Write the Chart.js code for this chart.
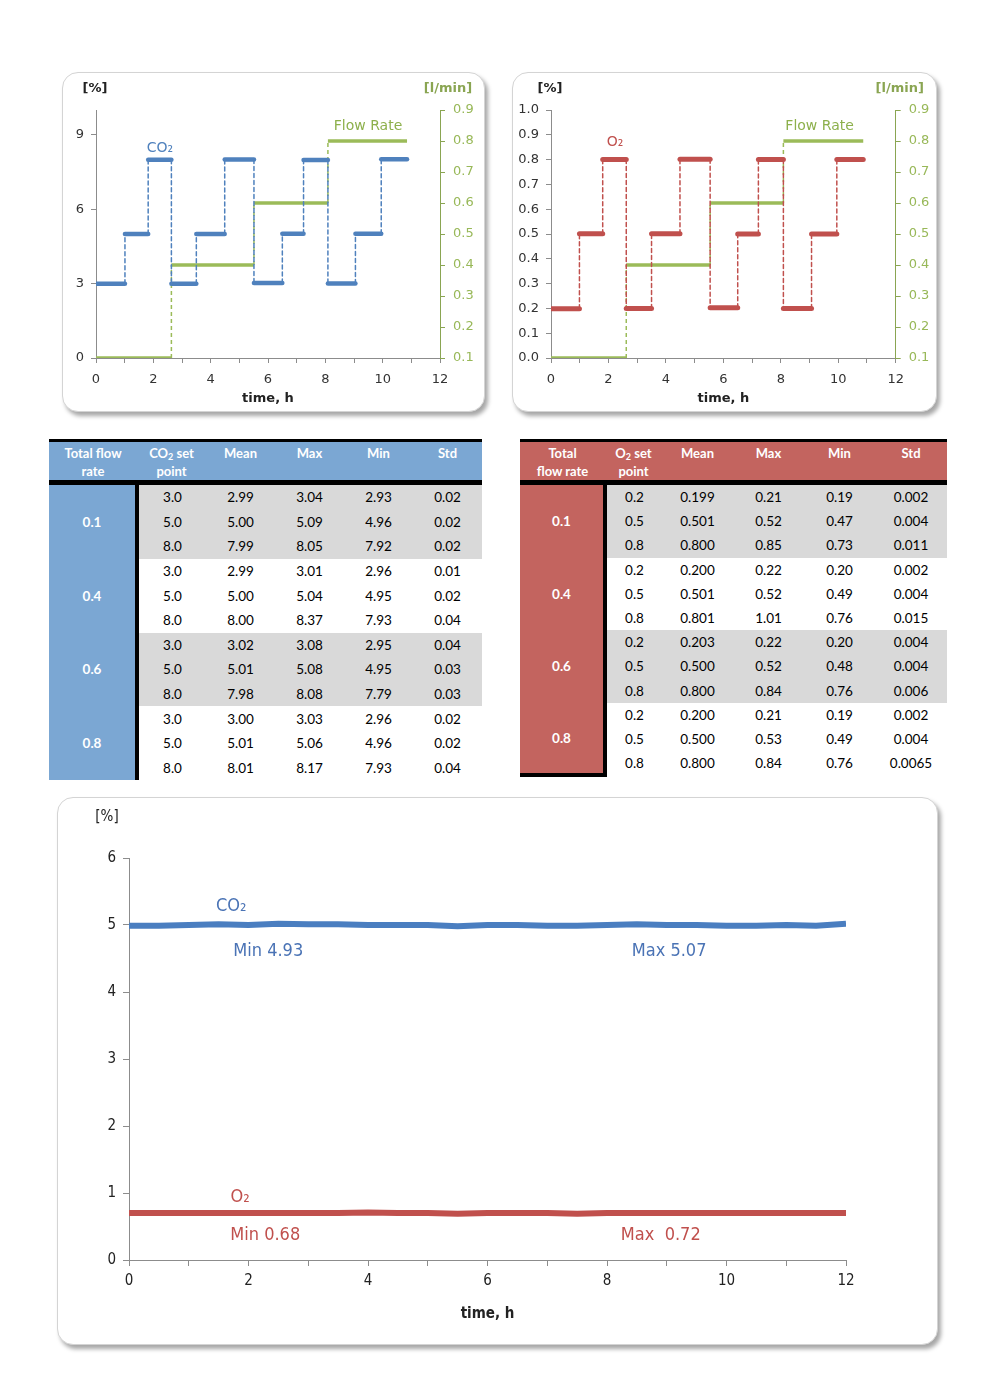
<!DOCTYPE html>
<html>
<head>
<meta charset="utf-8">
<script src="https://cdn.jsdelivr.net/npm/chart.js@4.4.1/dist/chart.umd.min.js"></script>
<style>
  body { margin: 0; background: #fff; width: 1000px; height: 1400px; position: relative; font-family: 'DejaVu Sans', sans-serif; }
  .card { position: absolute; box-sizing: border-box; background: #fff; border: 1.5px solid #d4d4d4; border-radius: 16px; box-shadow: 3px 4px 4px rgba(0,0,0,0.35); }
  canvas { position: absolute; }
  table.stats { position: absolute; border-collapse: collapse; table-layout: fixed; font-family: Lato, 'Open Sans', sans-serif; font-size: 13.5px; }
  table.stats th { color: #fff; font-weight: bold; font-size: 13px; height: 36px; vertical-align: top; padding: 2px 0 0; line-height: 18px; border-top: 3px solid #000; border-bottom: 5px solid #000; }
  table.stats td { padding: 0; text-align: center; color: #000; }
  #tblCO2 td { height: 24.6px; }
  #tblO2 td { height: 24.2px; }
  table.stats tr.shade td { background: #d9d9d9; }
  table.stats td.grp { color: #fff; font-weight: bold; border-right: 4px solid #000; }
  table.stats sub { font-size: 9px; vertical-align: -2px; line-height: 0; }
  #tblCO2 th, #tblCO2 td.grp { background: #7ba7d3; }
  #tblO2 th, #tblO2 td.grp { background: #c3645f; }
  #tblO2 td.grp.lastgrp { border-bottom: 4px solid #000; }
</style>
</head>
<body>
<div class="card" style="left:62px;top:72px;width:423px;height:340px"></div>
<div class="card" style="left:512px;top:72px;width:425px;height:340px"></div>
<div class="card" style="left:57px;top:797px;width:881px;height:548px"></div>

<canvas id="co2Steps" width="423" height="340" style="left:62px;top:72px"></canvas>
<canvas id="o2Steps" width="425" height="340" style="left:512px;top:72px"></canvas>
<canvas id="longRun" width="881" height="548" style="left:57px;top:797px"></canvas>

<table id="tblCO2" class="stats" style="left:49px;top:439px;width:433px"></table>
<table id="tblO2" class="stats" style="left:520px;top:439px;width:427px"></table>

<script>
// step test, CO2 (top left)
const co2StepTimes = [0, 1.01, 1.82, 2.63, 3.50, 4.49, 5.51, 6.50, 7.24, 8.09, 9.05, 9.95, 10.85];
const co2StepValues = [2.99, 5.00, 7.99, 2.99, 5.00, 8.00, 3.02, 5.01, 7.98, 3.00, 5.01, 8.01];
const co2FlowTimes = [0, 2.63, 5.51, 8.09, 10.85];

// step test, O2 (top right)
const o2StepTimes = [0, 0.99, 1.80, 2.62, 3.50, 4.49, 5.54, 6.50, 7.22, 8.09, 9.07, 9.95, 10.87];
const o2StepValues = [0.199, 0.501, 0.800, 0.200, 0.501, 0.801, 0.203, 0.500, 0.800, 0.200, 0.500, 0.800];
const o2FlowTimes = [0, 2.62, 5.54, 8.09, 10.87];

const flowValues = [0.1, 0.4, 0.6, 0.8];

// 12 h run at constant set point (bottom)
const longTimes = [0, 0.5, 1, 1.5, 2, 2.5, 3, 3.5, 4, 4.5, 5, 5.5, 6, 6.5, 7, 7.5, 8, 8.5, 9, 9.5, 10, 10.5, 11, 11.5, 12];
const longCO2 = [4.99, 4.99, 5.00, 5.01, 5.00, 5.02, 5.01, 5.01, 5.00, 5.00, 5.00, 4.98, 5.00, 5.00, 4.99, 4.99, 5.00, 5.01, 5.00, 5.00, 4.99, 4.99, 5.00, 4.99, 5.02];
const longO2 = [0.70, 0.70, 0.70, 0.70, 0.70, 0.70, 0.70, 0.70, 0.71, 0.70, 0.70, 0.69, 0.70, 0.70, 0.70, 0.69, 0.70, 0.70, 0.70, 0.70, 0.70, 0.70, 0.70, 0.70, 0.70];

// tables
const flowGroups = ['0.1', '0.4', '0.6', '0.8'];
const co2SetPoints = ['3.0', '5.0', '8.0'];
const co2Mean = ['2.99', '5.00', '7.99', '2.99', '5.00', '8.00', '3.02', '5.01', '7.98', '3.00', '5.01', '8.01'];
const co2Max = ['3.04', '5.09', '8.05', '3.01', '5.04', '8.37', '3.08', '5.08', '8.08', '3.03', '5.06', '8.17'];
const co2Min = ['2.93', '4.96', '7.92', '2.96', '4.95', '7.93', '2.95', '4.95', '7.79', '2.96', '4.96', '7.93'];
const co2Std = ['0.02', '0.02', '0.02', '0.01', '0.02', '0.04', '0.04', '0.03', '0.03', '0.02', '0.02', '0.04'];

const o2SetPoints = ['0.2', '0.5', '0.8'];
const o2Mean = ['0.199', '0.501', '0.800', '0.200', '0.501', '0.801', '0.203', '0.500', '0.800', '0.200', '0.500', '0.800'];
const o2Max = ['0.21', '0.52', '0.85', '0.22', '0.52', '1.01', '0.22', '0.52', '0.84', '0.21', '0.53', '0.84'];
const o2Min = ['0.19', '0.47', '0.73', '0.20', '0.49', '0.76', '0.20', '0.48', '0.76', '0.19', '0.49', '0.76'];
const o2Std = ['0.002', '0.004', '0.011', '0.002', '0.004', '0.015', '0.004', '0.004', '0.006', '0.002', '0.004', '0.0065'];

const BLUE = '#4f81bd', RED = '#c0504d', GREEN = '#9bbb59';

function stepPoints(times, values) {
  const pts = [];
  for (let i = 0; i < values.length; i++) {
    pts.push({ x: times[i], y: values[i] });
    pts.push({ x: times[i + 1], y: values[i] });
  }
  return pts;
}

// vertical jumps between plateaus are thin dashed lines
// (dataset borderDash is set so chart.js uses the normal path, not the fast path
//  that would draw a falling jump three times over)
const isJump = c => c.p0.parsed.x === c.p1.parsed.x;
function stepSegment(width) {
  return {
    borderDash: c => isJump(c) ? [4, 3] : [],
    borderWidth: c => isJump(c) ? 1.5 : width
  };
}

function textPlugin(items, corners) {
  return {
    id: 'texts',
    afterDatasetsDraw(chart) {
      const ctx = chart.ctx, area = chart.chartArea;
      ctx.save();
      ctx.textBaseline = 'middle';
      items.forEach(it => {
        ctx.font = it.font;
        ctx.fillStyle = it.color;
        ctx.textAlign = 'center';
        ctx.fillText(it.text, chart.scales.x.getPixelForValue(it.x), chart.scales[it.axis || 'y'].getPixelForValue(it.y));
      });
      corners.forEach(it => {
        ctx.font = it.font;
        ctx.fillStyle = it.color;
        ctx.textAlign = 'center';
        const x = (it.side === 'right' ? area.right : area.left) + it.dx;
        ctx.fillText(it.text, x, area.top - it.dy);
      });
      ctx.restore();
    }
  };
}

function stepChart(id, cfg) {
  const tickFont = { family: "'DejaVu Sans', sans-serif", size: 13 };
  new Chart(document.getElementById(id), {
    type: 'line',
    data: {
      datasets: [
        {
          data: stepPoints(cfg.times, cfg.values),
          yAxisID: 'y',
          borderColor: cfg.color,
          borderWidth: cfg.width,
          borderDash: [4, 3],
          borderCapStyle: 'round',
          pointRadius: 0,
          segment: stepSegment(cfg.width)
        },
        {
          data: stepPoints(cfg.flowTimes, flowValues),
          yAxisID: 'y2',
          borderColor: GREEN,
          borderWidth: 3.5,
          borderDash: [4, 3],
          pointRadius: 0,
          segment: stepSegment(3.5)
        }
      ]
    },
    options: {
      responsive: false,
      animation: false,
      layout: { padding: { top: 38, left: 0, right: 0, bottom: 0 } },
      plugins: { legend: { display: false }, tooltip: { enabled: false } },
      scales: {
        x: {
          type: 'linear', min: 0, max: 12,
          ticks: { stepSize: 1, autoSkip: false, maxRotation: 0, padding: 9, color: '#333', font: tickFont,
                   callback: v => v % 2 === 0 ? String(v) : '' },
          grid: { drawOnChartArea: false, tickLength: 5, color: '#8c8c8c' },
          border: { color: '#8c8c8c' },
          title: { display: true, text: 'time, h', color: '#222', font: { family: "'DejaVu Sans', sans-serif", size: 13, weight: 'bold' }, padding: { top: 0, bottom: 6 } },
          afterFit: s => { s.height = 54; }
        },
        y: {
          position: 'left', min: cfg.yMin, max: cfg.yMax,
          ticks: { stepSize: cfg.yStep, includeBounds: false, padding: 7, color: '#333', font: tickFont, callback: cfg.yFormat },
          grid: { drawOnChartArea: false, tickLength: 5, color: '#8c8c8c' },
          border: { color: '#8c8c8c' },
          afterFit: s => { s.width = cfg.yWidth; }
        },
        y2: {
          position: 'right', min: 0.1, max: 0.9,
          ticks: { stepSize: 0.1, padding: 8, color: '#98b858', font: tickFont, callback: v => v.toFixed(1) },
          grid: { drawOnChartArea: false, tickLength: 5, color: '#8aa552' },
          border: { color: '#8aa552' },
          afterFit: s => { s.width = cfg.y2Width; }
        }
      }
    },
    plugins: [textPlugin(cfg.labels, [
      { text: '[%]', side: 'left', dx: -1, dy: 21, color: '#222', font: "bold 13px 'DejaVu Sans', sans-serif" },
      { text: '[l/min]', side: 'right', dx: cfg.unitDx, dy: 21, color: '#8aa552', font: "bold 13px 'DejaVu Sans', sans-serif" }
    ])]
  });
}

stepChart('co2Steps', {
  times: co2StepTimes, values: co2StepValues, flowTimes: co2FlowTimes, color: BLUE, width: 4.5,
  yMin: 0, yMax: 10, yStep: 3, yFormat: v => String(v), yWidth: 34, y2Width: 45, unitDx: 8,
  labels: [
    { text: 'CO₂', x: 2.23, y: 8.45, axis: 'y', color: BLUE, font: "14px 'DejaVu Sans', sans-serif" },
    { text: 'Flow Rate', x: 9.49, y: 0.848, axis: 'y2', color: '#8db04c', font: "14px 'DejaVu Sans', sans-serif" }
  ]
});

stepChart('o2Steps', {
  times: o2StepTimes, values: o2StepValues, flowTimes: o2FlowTimes, color: RED, width: 5,
  yMin: 0, yMax: 1, yStep: 0.1, yFormat: v => v.toFixed(1), yWidth: 39, y2Width: 41.3, unitDx: 4,
  labels: [
    { text: 'O₂', x: 2.23, y: 0.87, axis: 'y', color: RED, font: "14px 'DejaVu Sans', sans-serif" },
    { text: 'Flow Rate', x: 9.35, y: 0.848, axis: 'y2', color: '#8db04c', font: "14px 'DejaVu Sans', sans-serif" }
  ]
});

// bottom chart
const narrow = "'DejaVu Sans Condensed', 'Liberation Sans Narrow', sans-serif";
new Chart(document.getElementById('longRun'), {
  type: 'line',
  data: {
    datasets: [
      { data: longTimes.map((t, i) => ({ x: t, y: longCO2[i] })), borderColor: '#4a7ec0', borderWidth: 6, pointRadius: 0 },
      { data: longTimes.map((t, i) => ({ x: t, y: longO2[i] })), borderColor: RED, borderWidth: 6, pointRadius: 0 }
    ]
  },
  options: {
    responsive: false,
    animation: false,
    layout: { padding: { top: 61, left: 0, right: 92, bottom: 0 } },
    plugins: { legend: { display: false }, tooltip: { enabled: false } },
    scales: {
      x: {
        type: 'linear', min: 0, max: 12,
        ticks: { stepSize: 1, autoSkip: false, maxRotation: 0, padding: 6, color: '#222', font: { family: narrow, size: 15 },
                 callback: v => v % 2 === 0 ? String(v) : '' },
        grid: { drawOnChartArea: false, tickLength: 6, color: '#8c8c8c' },
        border: { color: '#8c8c8c' },
        title: { display: true, text: 'time, h', color: '#222', font: { family: narrow, size: 15, weight: 'bold' }, padding: { top: 0, bottom: 22 } },
        afterFit: s => { s.height = 85; }
      },
      y: {
        min: 0, max: 6,
        ticks: { stepSize: 1, padding: 7, color: '#222', font: { family: narrow, size: 15 } },
        grid: { drawOnChartArea: false, tickLength: 6, color: '#8c8c8c' },
        border: { color: '#8c8c8c' },
        afterFit: s => { s.width = 72; }
      }
    }
  },
  plugins: [textPlugin([
    { text: 'CO₂', x: 1.71, y: 5.28, color: '#4a73b5', font: "18px " + narrow },
    { text: 'Min 4.93', x: 2.33, y: 4.6, color: '#4a73b5', font: "18px " + narrow },
    { text: 'Max 5.07', x: 9.04, y: 4.6, color: '#4a73b5', font: "18px " + narrow },
    { text: 'O₂', x: 1.86, y: 0.93, color: RED, font: "18px " + narrow },
    { text: 'Min 0.68', x: 2.28, y: 0.37, color: RED, font: "18px " + narrow },
    { text: 'Max  0.72', x: 8.9, y: 0.37, color: RED, font: "18px " + narrow }
  ], [
    { text: '[%]', side: 'left', dx: -22, dy: 41, color: '#222', font: "15px " + narrow }
  ])]
});

function renderTable(id, cfg) {
  let html = '<colgroup>' + cfg.widths.map(w => `<col style="width:${w}px">`).join('') + '</colgroup>';
  html += '<thead><tr>' + cfg.headers.map(h => `<th>${h}</th>`).join('') + '</tr></thead><tbody>';
  flowGroups.forEach((g, gi) => {
    cfg.setPoints.forEach((sp, si) => {
      const r = gi * 3 + si;
      html += `<tr class="${gi % 2 === 0 ? 'shade' : ''}">`;
      if (si === 0) html += `<td rowspan="3" class="grp${gi === flowGroups.length - 1 ? ' lastgrp' : ''}">${g}</td>`;
      html += `<td>${sp}</td><td>${cfg.mean[r]}</td><td>${cfg.max[r]}</td><td>${cfg.min[r]}</td><td>${cfg.std[r]}</td></tr>`;
    });
  });
  document.getElementById(id).innerHTML = html + '</tbody>';
}

renderTable('tblCO2', {
  widths: [88, 69, 69, 69, 69, 69],
  headers: ['Total flow<br>rate', 'CO<sub>2</sub> set<br>point', 'Mean', 'Max', 'Min', 'Std'],
  setPoints: co2SetPoints, mean: co2Mean, max: co2Max, min: co2Min, std: co2Std
});

renderTable('tblO2', {
  widths: [85, 57, 71, 71, 71, 72],
  headers: ['Total<br>flow rate', 'O<sub>2</sub> set<br>point', 'Mean', 'Max', 'Min', 'Std'],
  setPoints: o2SetPoints, mean: o2Mean, max: o2Max, min: o2Min, std: o2Std
});
</script>
</body>
</html>
